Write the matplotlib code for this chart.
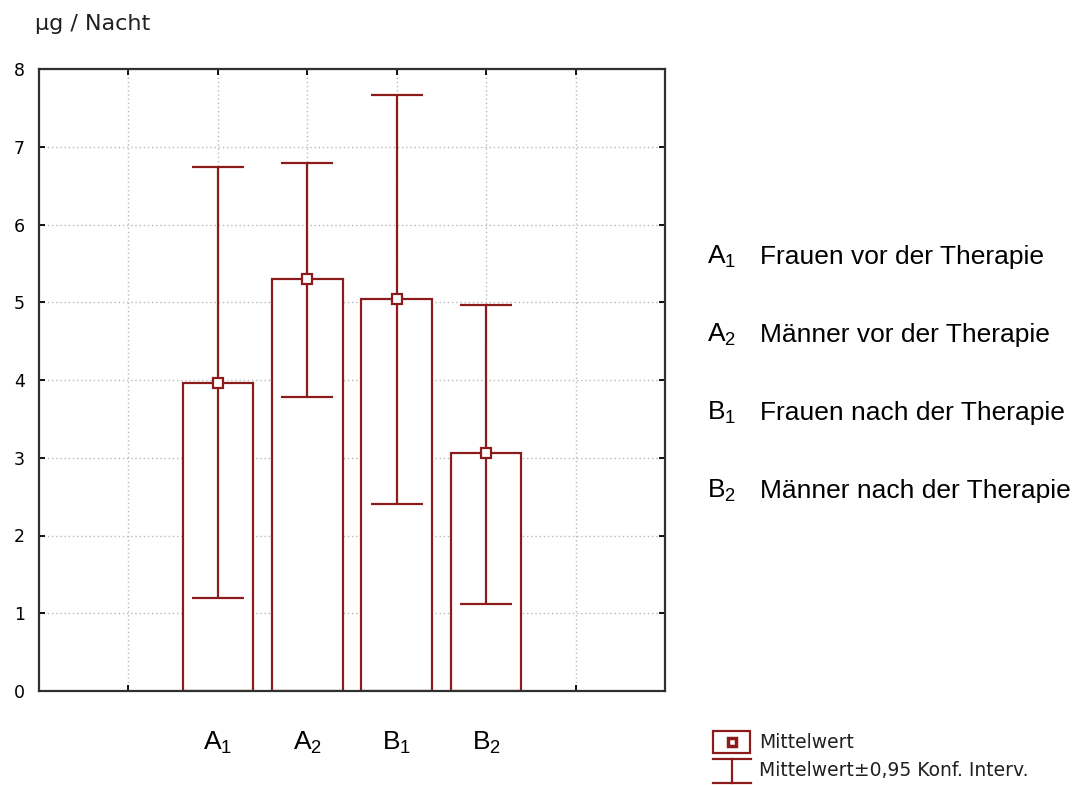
import numpy as np
import matplotlib
matplotlib.use("Agg")
import matplotlib.pyplot as plt
from matplotlib.patches import Rectangle
from matplotlib.lines import Line2D

# ----- Daten -----
gruppen = ["A$_1$", "A$_2$", "B$_1$", "B$_2$"]
gruppen_text = ["A", "A", "B", "B"]
gruppen_index = ["1", "2", "1", "2"]
beschreibung = ["Frauen vor der Therapie", "Männer vor der Therapie",
                "Frauen nach der Therapie", "Männer nach der Therapie"]
mittelwert = [3.96, 5.30, 5.04, 3.06]
ki_unten = [1.20, 3.78, 2.40, 1.12]
ki_oben = [6.74, 6.79, 7.67, 4.97]
positionen = [2, 3, 4, 5]

rot = "#8c1c1c"
plt.rcParams["mathtext.default"] = "regular"
plt.rcParams["mathtext.fontset"] = "custom"
plt.rcParams["mathtext.rm"] = "Liberation Sans"
plt.rcParams["mathtext.it"] = "Liberation Sans:italic"
plt.rcParams["mathtext.bf"] = "Liberation Sans:bold"

fig = plt.figure(figsize=(10.79, 7.85), dpi=100)
ax = fig.add_axes([39 / 1079, 1 - 691 / 785, 626 / 1079, 622 / 785])

mw = np.array(mittelwert)
fehler = np.array([mw - np.array(ki_unten), np.array(ki_oben) - mw])

ax.bar(positionen, mittelwert, width=0.79, color="white", edgecolor=rot,
       linewidth=1.6, zorder=2)
ax.errorbar(positionen, mittelwert, yerr=fehler, fmt="s", color=rot,
            ecolor=rot, elinewidth=1.6, capsize=18.5, capthick=1.8,
            markersize=6.5, markerfacecolor="white", markeredgecolor=rot,
            markeredgewidth=1.6, zorder=3)

ax.set_xlim(0, 7)
ax.set_ylim(0, 8)
ax.set_xticks(range(1, 7))
ax.set_xticklabels([""] + gruppen + [""], fontsize=19, family="Liberation Sans")
ax.set_yticks(range(0, 9))
ax.tick_params(axis="x", direction="in", length=4, width=1.3, pad=28,
               top=True)
ax.tick_params(axis="y", direction="in", length=4, width=1.3, pad=10,
               right=True, labelsize=12.5)
ax.grid(True, color="#b8b8b8", linestyle=(0, (1, 2)), linewidth=1.0, zorder=0)
ax.set_axisbelow(True)
for s in ax.spines.values():
    s.set_linewidth(1.6)
    s.set_color("#303030")

fig.text(35 / 1079, 1 - 24 / 785, "µg / Nacht", fontsize=16, va="center",
         ha="left", color="#202020")

# ----- Erklaerung rechts -----
for i, (g, idx, txt) in enumerate(zip(gruppen_text, gruppen_index, beschreibung)):
    y = 1 - (257 + 78 * i) / 785
    fig.text(707 / 1079, y, f"{g}$_{idx}$", fontsize=19, va="center",
             family="Liberation Sans")
    fig.text(760 / 1079, y, txt, fontsize=19, va="center",
             family="Liberation Sans")

# ----- Legende -----
lax = fig.add_axes([0, 0, 1, 1], facecolor="none")
lax.set_xlim(0, 1079)
lax.set_ylim(785, 0)
lax.axis("off")
lax.add_patch(Rectangle((713, 731), 37, 22, fill=False, edgecolor=rot, lw=1.6))
lax.add_line(Line2D([731.5], [742], marker="s", markersize=6, color=rot,
                    markerfacecolor="white", markeredgewidth=2.5))
lax.add_line(Line2D([713, 751], [759, 759], color=rot, lw=1.6))
lax.add_line(Line2D([713, 751], [783, 783], color=rot, lw=1.6))
lax.add_line(Line2D([732, 732], [759, 783], color=rot, lw=1.6))
lax.text(759, 743, "Mittelwert", fontsize=13.5, va="center", ha="left",
         color="#202020")
lax.text(759, 771, "Mittelwert±0,95 Konf. Interv.", fontsize=13.5,
         va="center", ha="left", color="#202020")

fig.savefig("out.png", dpi=100)
